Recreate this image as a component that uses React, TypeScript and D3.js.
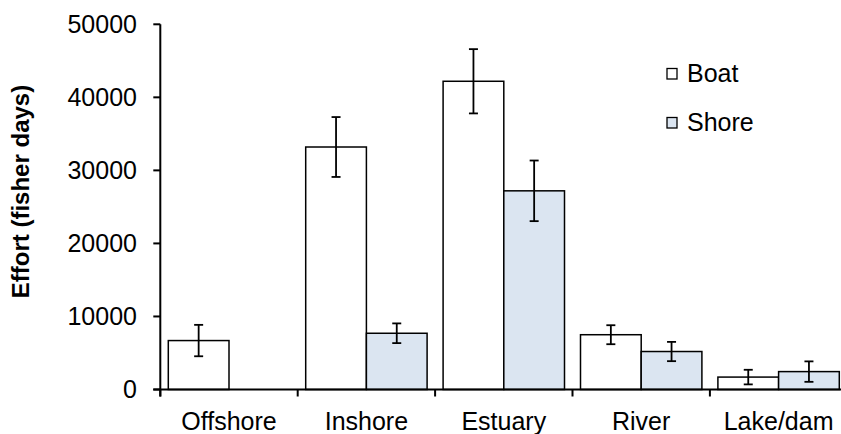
import React from 'react';
import * as d3 from 'd3';

// categories and series
const categories = ['Offshore', 'Inshore', 'Estuary', 'River', 'Lake/dam'];
const seriesNames = ['Boat', 'Shore'];
const boatValues = [6700, 33200, 42200, 7500, 1700];
const boatErrors = [2150, 4100, 4400, 1300, 1000];
const shoreValues = [0, 7700, 27200, 5200, 2450];
const shoreErrors = [0, 1350, 4150, 1320, 1400];
const yTicks = [0, 10000, 20000, 30000, 40000, 50000];

const config = {
    width: 841,
    height: 434,
    left: 160.3,
    bandWidth: 137.4,
    top: 24.3,
    bottom: 389.5,
    barPad: 8,
    fontSize: 25,
    colors: ['#ffffff', '#dbe5f1'],
    font: 'Liberation Sans, Arial, sans-serif'
};

export default function App() {
    const { width, height, left, bandWidth, top, bottom, barPad, fontSize, colors, font } = config;

    const x = d3.scaleBand()
        .domain(categories)
        .range([left, left + bandWidth * categories.length])
        .paddingInner(0)
        .paddingOuter(0);
    const yMax = d3.max(yTicks) as number;
    const y = d3.scaleLinear().domain([0, yMax]).range([bottom, top]);

    const inner = d3.scaleBand()
        .domain(seriesNames)
        .range([barPad, x.bandwidth() - barPad]);

    const series = [
        { name: seriesNames[0], values: boatValues, errors: boatErrors, fill: colors[0] },
        { name: seriesNames[1], values: shoreValues, errors: shoreErrors, fill: colors[1] }
    ];

    const boundaries = d3.range(categories.length + 1).map(i => left + i * x.step());

    return (
        <svg width={width} height={height} style={{ position: 'absolute', left: 0, top: 0 }}
             fontFamily={font}>
            <rect width={width} height={height} fill="#fff" />

            {/* bars */}
            {series.map(s => (
                <g key={s.name}>
                    {categories.map((c, i) => {
                        const v = s.values[i];
                        if (!v) return null;
                        const bx = (x(c) as number) + (inner(s.name) as number);
                        const bw = inner.bandwidth();
                        return (
                            <rect key={c} x={bx} y={y(v)} width={bw} height={bottom - y(v)}
                                  fill={s.fill} stroke="#000" strokeWidth={1.5} />
                        );
                    })}
                </g>
            ))}

            {/* error bars */}
            {series.map(s => (
                <g key={s.name + '-err'} stroke="#000" strokeWidth={1.8}>
                    {categories.map((c, i) => {
                        const v = s.values[i];
                        const e = s.errors[i];
                        if (!e) return null;
                        const cx = (x(c) as number) + (inner(s.name) as number) + inner.bandwidth() / 2;
                        return (
                            <g key={c}>
                                <line x1={cx} x2={cx} y1={y(v + e)} y2={y(v - e)} />
                                <line x1={cx - 4.5} x2={cx + 4.5} y1={y(v + e)} y2={y(v + e)} />
                                <line x1={cx - 4.5} x2={cx + 4.5} y1={y(v - e)} y2={y(v - e)} />
                            </g>
                        );
                    })}
                </g>
            ))}

            {/* y axis */}
            <g stroke="#000" strokeWidth={2}>
                <line x1={left} x2={left} y1={top} y2={bottom + 7} />
                {yTicks.map(t => (
                    <line key={t} x1={left - 7} x2={left} y1={y(t)} y2={y(t)} />
                ))}
            </g>
            {yTicks.map(t => (
                <text key={t} x={137} y={y(t)} dy="0.35em" textAnchor="end" fontSize={fontSize} fill="#000">
                    {t}
                </text>
            ))}
            <text transform={`translate(29,191.5) rotate(-90)`} textAnchor="middle"
                  fontSize={fontSize - 1} fontWeight="bold" fill="#000">
                Effort (fisher days)
            </text>

            {/* x axis */}
            <g stroke="#000" strokeWidth={2}>
                <line x1={left - 7} x2={width} y1={bottom} y2={bottom} />
                {boundaries.map((b, i) => (
                    <line key={i} x1={b} x2={b} y1={bottom} y2={bottom + 7} />
                ))}
            </g>
            {categories.map(c => (
                <text key={c} x={(x(c) as number) + x.bandwidth() / 2} y={430} textAnchor="middle"
                      fontSize={fontSize} fill="#000">
                    {c}
                </text>
            ))}

            {/* legend */}
            {series.map((s, i) => (
                <g key={s.name + '-legend'} transform={`translate(667,${68.5 + i * 49})`}>
                    <rect width={10} height={10.5} fill={s.fill} stroke="#000" strokeWidth={1.3} />
                    <text x={20} y={13.2} fontSize={fontSize} fill="#000">{s.name}</text>
                </g>
            ))}
        </svg>
    );
}
